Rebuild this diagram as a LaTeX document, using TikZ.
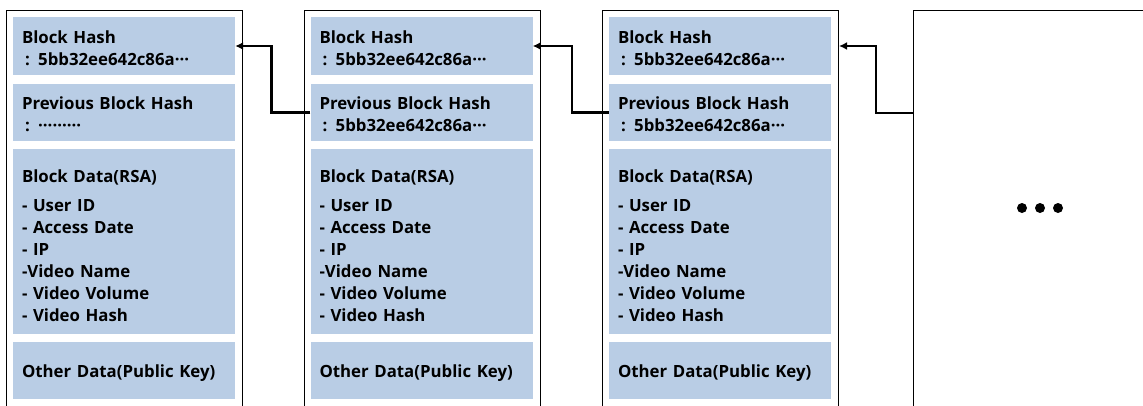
\documentclass[tikz,border=0pt]{standalone}
\usepackage{fontspec}
\setmainfont{Open Sans}
\usetikzlibrary{arrows.meta}
\definecolor{cellblue}{HTML}{B9CDE5}
\newcommand{\myell}{\textperiodcentered\textperiodcentered\textperiodcentered}
\tikzset{
  outerbox/.style={draw=black, line width=1pt, anchor=north west, minimum width=236pt, minimum height=430pt, inner sep=0pt},
  cell/.style={fill=cellblue, anchor=center, minimum width=222pt, text width=204pt, inner xsep=9pt, inner ysep=0pt, align=left,
     font=\fontsize{16.8}{22}\selectfont\bfseries},
  pushdown/.style={execute at begin node={\rule{0pt}{#1}}},
  link/.style={line width=2.6pt, -{Latex[length=8pt,width=8pt]}},
  dot/.style={fill=black}
}
\begin{document}
\begin{tikzpicture}[x=1pt,y=-1pt]
\useasboundingbox[fill=white] (0,0) rectangle (1143,405);
\foreach \i/\x in {1/6,2/304,3/602}{
  \node[outerbox] (block\i) at (\x,10) {};
}
\node[outerbox, minimum width=260pt] (block4) at (913,10) {};
\foreach \i/\x in {1/124,2/421.5,3/720}{
  \node[cell, pushdown=17pt, minimum height=58pt] (h\i) at (\x,46) {Block Hash\\ \hspace*{3pt}: 5bb32ee642c86a\myell};
  \node[cell, pushdown=17pt, minimum height=57pt] (p\i) at (\x,112.5) {Previous Block Hash\\ \hspace*{3pt}: \ifnum\i=1 \myell\myell\myell\else 5bb32ee642c86a\myell\fi};
  \node[cell, pushdown=22pt, minimum height=185pt] (d\i) at (\x,241.5) {Block Data(RSA)\\[7pt] - User ID\\ - Access Date\\ - IP\\ -Video Name\\ - Video Volume\\ - Video Hash};
  \node[cell, pushdown=19pt, minimum height=57pt] (o\i) at (\x,370.5) {Other Data(Public Key)};
}
\coordinate (c4) at (913,113);
\draw[link] (p2.west) -- ++(-39,0) |- (h1.east);
\draw[link] (p3.west) -- ++(-37,0) |- (h2.east);
\draw[link] (c4) -- ++(-37,0) |- (block3.east |- h3.east);
\foreach \x in {1022,1040,1058}{\fill[dot] (\x,208) circle (5pt);}
\end{tikzpicture}
\end{document}
